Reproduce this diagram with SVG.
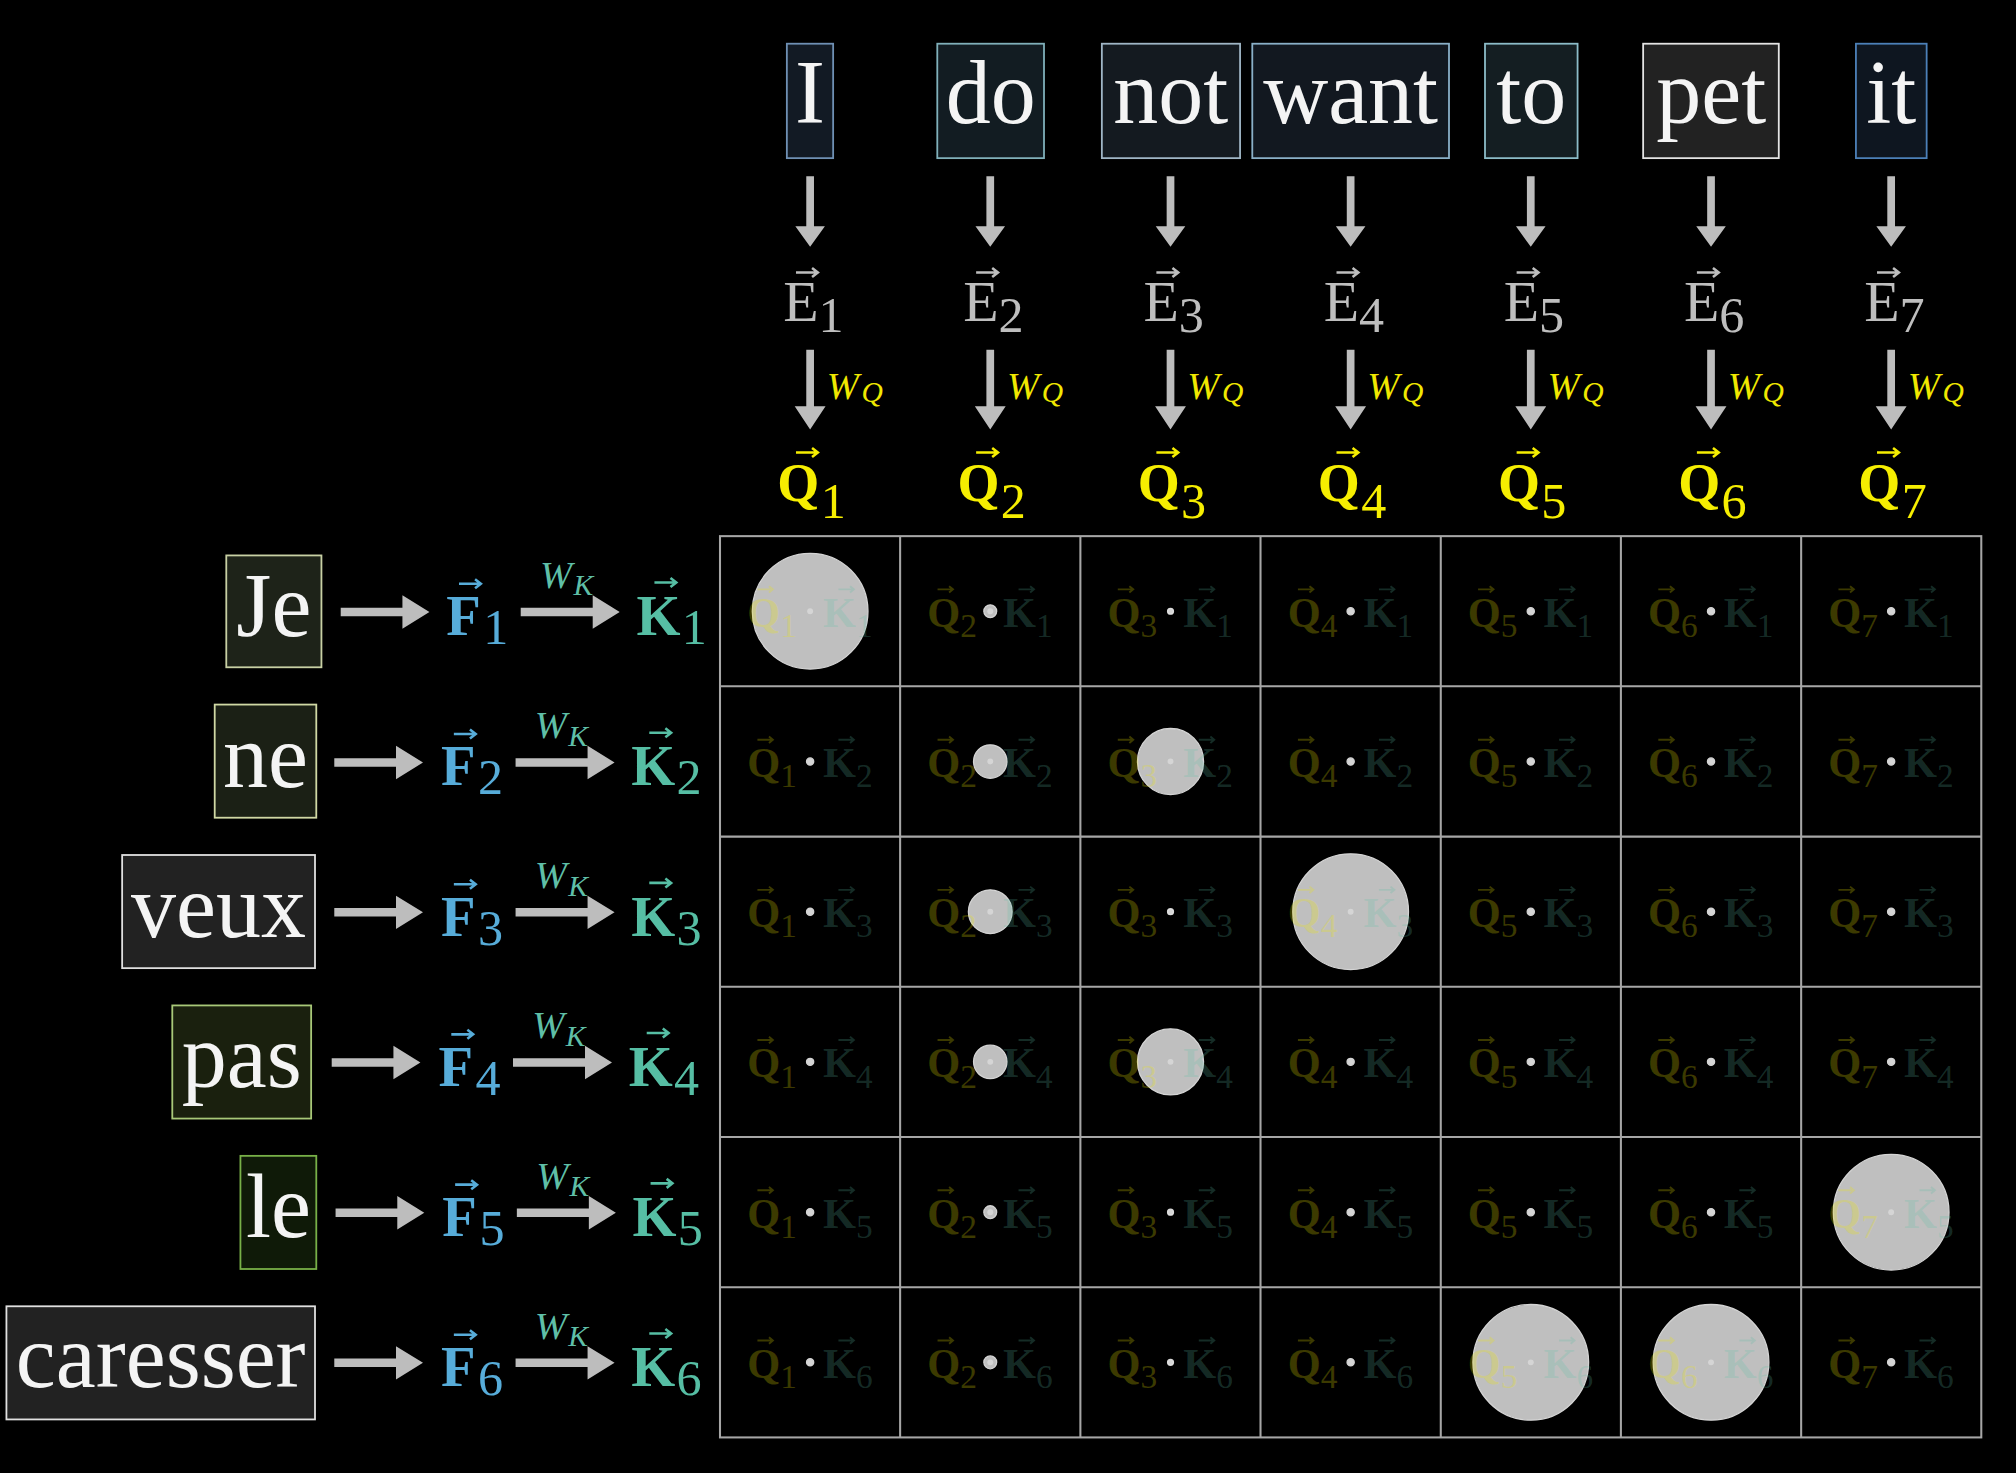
<svg xmlns="http://www.w3.org/2000/svg" xmlns:xlink="http://www.w3.org/1999/xlink" width="2016" height="1473" viewBox="0 0 2016 1473">
<style>
text{font-family:"Liberation Serif","DejaVu Serif",serif}
.w{font-size:70px;fill:#f4f4f4;text-anchor:middle}
.bx{stroke-width:1.4}
.ar{fill:#bdbdbd}
.e{font-size:45px;fill:#bebebe}
.es{font-size:39px}
.q{font-size:42px;font-weight:bold;fill:#f6ee00}
.qs{font-size:39px;font-weight:normal}
.wq{font-size:30px;font-style:italic;fill:#f0e800}
.wqs{font-size:23px}
.f{font-size:44px;font-weight:bold;fill:#57acd9}
.k{font-size:44px;font-weight:bold;fill:#56bea4}
.fs{font-size:39px;font-weight:normal}
.wk{font-size:30px;font-style:italic;fill:#5fbfa7}
.wks{font-size:23px}
.grid{fill:none;stroke:#a6a6a6;stroke-width:1.6}
.dt{fill:#bfbfbf;stroke:#d4d4d4;stroke-width:1}
.cd{fill:#ffffff;opacity:.35}
.ct{font-size:33px;font-weight:bold}
.cq{fill:#f0e800;fill-opacity:.25}
.ck{fill:#5cbfa5;fill-opacity:.23}
.n{font-size:26px;font-weight:normal}
.aq{stroke:#f0e800;stroke-opacity:.25}
.ak{stroke:#5cbfa5;stroke-opacity:.23}
</style>
<defs>
<path id="va" d="M0,0h17m-4.5,-3.5l4.5,3.5l-4.5,3.5" fill="none" stroke-width="2"/>
<path id="ca" d="M0,0h12m-3,-2.5l3,2.5l-3,2.5" fill="none" stroke-width="1.5"/>
<polygon id="da1" points="-3,137 3,137 3,176 11.5,176 0,192 -11.5,176 -3,176"/>
<polygon id="da2" points="-3,272 3,272 3,316 12,316 0,334 -12,316 -3,316"/>
<polygon id="ha1" points="0,-3.3 48,-3.3 48,-13 69,0 48,13 48,3.3 0,3.3"/>
<polygon id="ha2" points="0,-3.3 56,-3.3 56,-13 77,0 56,13 56,3.3 0,3.3"/>
</defs>
<rect width="2016" height="1473" fill="#000"/>
<g transform="scale(1.285714)">

<g id="top-words">
<g id="w-I"><rect class="bx" x="612" y="34" width="36" height="89" fill="#121a24" stroke="#6f90b4"/><text class="w" x="630" y="96">I</text></g>
<g id="w-do"><rect class="bx" x="729" y="34" width="83" height="89" fill="#121c22" stroke="#80b0ba"/><text class="w" x="770.5" y="96">do</text></g>
<g id="w-not"><rect class="bx" x="857" y="34" width="107.5" height="89" fill="#141a20" stroke="#a0b6c6"/><text class="w" x="910.5" y="96">not</text></g>
<g id="w-want"><rect class="bx" x="974" y="34" width="153" height="89" fill="#121820" stroke="#8ab0c8"/><text class="w" x="1050.5" y="96">want</text></g>
<g id="w-to"><rect class="bx" x="1155" y="34" width="72" height="89" fill="#141e22" stroke="#8cbcc8"/><text class="w" x="1191" y="96">to</text></g>
<g id="w-pet"><rect class="bx" x="1278" y="34" width="105.5" height="89" fill="#222222" stroke="#e4e4e4"/><text class="w" x="1331" y="96">pet</text></g>
<g id="w-it"><rect class="bx" x="1443.5" y="34" width="55" height="89" fill="#0e1620" stroke="#4c80b8"/><text class="w" x="1471" y="96">it</text></g>
</g>

<g id="E-vectors">
<g id="E1"><text class="e" x="609.1" y="250">E<tspan class="es" dy="8">1</tspan></text><use href="#va" x="619.1" y="212" stroke="#bebebe"/></g>
<g id="E2"><text class="e" x="749.2" y="250">E<tspan class="es" dy="8">2</tspan></text><use href="#va" x="759.2" y="212" stroke="#bebebe"/></g>
<g id="E3"><text class="e" x="889.4" y="250">E<tspan class="es" dy="8">3</tspan></text><use href="#va" x="899.4" y="212" stroke="#bebebe"/></g>
<g id="E4"><text class="e" x="1029.5" y="250">E<tspan class="es" dy="8">4</tspan></text><use href="#va" x="1039.5" y="212" stroke="#bebebe"/></g>
<g id="E5"><text class="e" x="1169.6" y="250">E<tspan class="es" dy="8">5</tspan></text><use href="#va" x="1179.6" y="212" stroke="#bebebe"/></g>
<g id="E6"><text class="e" x="1309.8" y="250">E<tspan class="es" dy="8">6</tspan></text><use href="#va" x="1319.8" y="212" stroke="#bebebe"/></g>
<g id="E7"><text class="e" x="1449.9" y="250">E<tspan class="es" dy="8">7</tspan></text><use href="#va" x="1459.9" y="212" stroke="#bebebe"/></g>
</g>

<g id="Q-vectors">
<g id="Q1"><text class="q" x="604.6" y="390">Q<tspan class="qs" dx="1" dy="13">1</tspan></text><use href="#va" x="619.1" y="352" stroke="#f6ee00"/></g>
<g id="Q2"><text class="q" x="744.7" y="390">Q<tspan class="qs" dx="1" dy="13">2</tspan></text><use href="#va" x="759.2" y="352" stroke="#f6ee00"/></g>
<g id="Q3"><text class="q" x="884.9" y="390">Q<tspan class="qs" dx="1" dy="13">3</tspan></text><use href="#va" x="899.4" y="352" stroke="#f6ee00"/></g>
<g id="Q4"><text class="q" x="1025" y="390">Q<tspan class="qs" dx="1" dy="13">4</tspan></text><use href="#va" x="1039.5" y="352" stroke="#f6ee00"/></g>
<g id="Q5"><text class="q" x="1165.1" y="390">Q<tspan class="qs" dx="1" dy="13">5</tspan></text><use href="#va" x="1179.6" y="352" stroke="#f6ee00"/></g>
<g id="Q6"><text class="q" x="1305.3" y="390">Q<tspan class="qs" dx="1" dy="13">6</tspan></text><use href="#va" x="1319.8" y="352" stroke="#f6ee00"/></g>
<g id="Q7"><text class="q" x="1445.4" y="390">Q<tspan class="qs" dx="1" dy="13">7</tspan></text><use href="#va" x="1459.9" y="352" stroke="#f6ee00"/></g>
</g>

<g id="left-words">
<g id="w-Je"><rect class="bx" x="176" y="432" width="74" height="87" fill="#1e2319" stroke="#c8d0a4"/><text class="w" x="213" y="495">Je</text></g>
<g id="w-ne"><rect class="bx" x="167" y="548" width="79" height="88" fill="#1b2015" stroke="#d0d8a4"/><text class="w" x="206.5" y="612">ne</text></g>
<g id="w-veux"><rect class="bx" x="95" y="665" width="150" height="88" fill="#222222" stroke="#e0e0e0"/><text class="w" x="170" y="728.6">veux</text></g>
<g id="w-pas"><rect class="bx" x="134" y="782" width="108" height="88" fill="#1a200e" stroke="#a8c878"/><text class="w" x="188" y="845.4">pas</text></g>
<g id="w-le"><rect class="bx" x="187" y="899" width="59" height="88" fill="#0f1a08" stroke="#78b048"/><text class="w" x="216.5" y="962.3">le</text></g>
<g id="w-caresser"><rect class="bx" x="5" y="1016" width="240" height="88" fill="#222222" stroke="#e0e0e0"/><text class="w" x="125" y="1079">caresser</text></g>
</g>

<g id="F-K-vectors">
<g id="F1" transform="translate(0,475.4)"><text class="f" x="347" y="18.6">F<tspan class="fs" dx="2" dy="7">1</tspan></text><use href="#va" x="357" y="-21.4" stroke="#57acd9"/></g>
<g id="K1" transform="translate(0,475.4)"><text class="k" x="495" y="18.6">K<tspan class="fs" dx="1" dy="7">1</tspan></text><use href="#va" x="509" y="-22.4" stroke="#56bea4"/></g>
<g id="F2" transform="translate(-4,592.3)"><text class="f" x="347" y="18.6">F<tspan class="fs" dx="2" dy="7">2</tspan></text><use href="#va" x="357" y="-21.4" stroke="#57acd9"/></g>
<g id="K2" transform="translate(-4,592.3)"><text class="k" x="495" y="18.6">K<tspan class="fs" dx="1" dy="7">2</tspan></text><use href="#va" x="509" y="-22.4" stroke="#56bea4"/></g>
<g id="F3" transform="translate(-4,709.1)"><text class="f" x="347" y="18.6">F<tspan class="fs" dx="2" dy="7">3</tspan></text><use href="#va" x="357" y="-21.4" stroke="#57acd9"/></g>
<g id="K3" transform="translate(-4,709.1)"><text class="k" x="495" y="18.6">K<tspan class="fs" dx="1" dy="7">3</tspan></text><use href="#va" x="509" y="-22.4" stroke="#56bea4"/></g>
<g id="F4" transform="translate(-6,825.9)"><text class="f" x="347" y="18.6">F<tspan class="fs" dx="2" dy="7">4</tspan></text><use href="#va" x="357" y="-21.4" stroke="#57acd9"/></g>
<g id="K4" transform="translate(-6,825.9)"><text class="k" x="495" y="18.6">K<tspan class="fs" dx="1" dy="7">4</tspan></text><use href="#va" x="509" y="-22.4" stroke="#56bea4"/></g>
<g id="F5" transform="translate(-3,942.8)"><text class="f" x="347" y="18.6">F<tspan class="fs" dx="2" dy="7">5</tspan></text><use href="#va" x="357" y="-21.4" stroke="#57acd9"/></g>
<g id="K5" transform="translate(-3,942.8)"><text class="k" x="495" y="18.6">K<tspan class="fs" dx="1" dy="7">5</tspan></text><use href="#va" x="509" y="-22.4" stroke="#56bea4"/></g>
<g id="F6" transform="translate(-4,1059.6)"><text class="f" x="347" y="18.6">F<tspan class="fs" dx="2" dy="7">6</tspan></text><use href="#va" x="357" y="-21.4" stroke="#57acd9"/></g>
<g id="K6" transform="translate(-4,1059.6)"><text class="k" x="495" y="18.6">K<tspan class="fs" dx="1" dy="7">6</tspan></text><use href="#va" x="509" y="-22.4" stroke="#56bea4"/></g>
</g>

<g id="connectors">
<g class="ar">
<use href="#da1" x="630.1"/><use href="#da1" x="770.2"/><use href="#da1" x="910.4"/><use href="#da1" x="1050.5"/><use href="#da1" x="1190.6"/><use href="#da1" x="1330.8"/><use href="#da1" x="1470.9"/>
<use href="#da2" x="630.1"/><use href="#da2" x="770.2"/><use href="#da2" x="910.4"/><use href="#da2" x="1050.5"/><use href="#da2" x="1190.6"/><use href="#da2" x="1330.8"/><use href="#da2" x="1470.9"/>
<use href="#ha1" x="265" y="476"/><use href="#ha2" x="405" y="476"/>
<use href="#ha1" x="260" y="593"/><use href="#ha2" x="401" y="593"/>
<use href="#ha1" x="260" y="709.6"/><use href="#ha2" x="401" y="709.6"/>
<use href="#ha1" x="258" y="826.4"/><use href="#ha2" x="399" y="826.4"/>
<use href="#ha1" x="261" y="943.3"/><use href="#ha2" x="402" y="943.3"/>
<use href="#ha1" x="260" y="1060"/><use href="#ha2" x="401" y="1060"/>
</g>
<g id="wq-labels">
<text class="wq" x="643.1" y="310">W<tspan class="wqs" dx="2" dy="3">Q</tspan></text>
<text class="wq" x="783.2" y="310">W<tspan class="wqs" dx="2" dy="3">Q</tspan></text>
<text class="wq" x="923.4" y="310">W<tspan class="wqs" dx="2" dy="3">Q</tspan></text>
<text class="wq" x="1063.5" y="310">W<tspan class="wqs" dx="2" dy="3">Q</tspan></text>
<text class="wq" x="1203.6" y="310">W<tspan class="wqs" dx="2" dy="3">Q</tspan></text>
<text class="wq" x="1343.8" y="310">W<tspan class="wqs" dx="2" dy="3">Q</tspan></text>
<text class="wq" x="1483.9" y="310">W<tspan class="wqs" dx="2" dy="3">Q</tspan></text>
</g>
<g id="wk-labels">
<text class="wk" x="420" y="457">W<tspan class="wks" dx="1" dy="6">K</tspan></text>
<text class="wk" x="416" y="573.9">W<tspan class="wks" dx="1" dy="6">K</tspan></text>
<text class="wk" x="416" y="690.7">W<tspan class="wks" dx="1" dy="6">K</tspan></text>
<text class="wk" x="414" y="807.5">W<tspan class="wks" dx="1" dy="6">K</tspan></text>
<text class="wk" x="417" y="924.4">W<tspan class="wks" dx="1" dy="6">K</tspan></text>
<text class="wk" x="416" y="1041.2">W<tspan class="wks" dx="1" dy="6">K</tspan></text>
</g>
</g>

<g id="grid">
<rect class="grid" x="560" y="417" width="981" height="701"/>
<path class="grid" d="M700.1,417V1118M840.3,417V1118M980.4,417V1118M1120.6,417V1118M1260.7,417V1118M1400.9,417V1118M560,533.8H1541M560,650.7H1541M560,767.5H1541M560,884.3H1541M560,1001.2H1541"/>
</g>

<g id="scores">
<g id="s-q1k1" transform="translate(630.1,475.4)"><circle class="dt" r="45"/><text class="ct" x="-49" y="12"><tspan class="cq">Q</tspan><tspan class="cq n" dy="8">1</tspan><tspan class="ck" x="10" dy="-8">K</tspan><tspan class="ck n" dy="8">1</tspan></text><use class="aq" href="#ca" x="-41" y="-17"/><use class="ak" href="#ca" x="22" y="-17"/><circle class="cd" r="2.3"/></g>
<g id="s-q2k1" transform="translate(770.2,475.4)"><circle class="dt" r="5"/><text class="ct" x="-49" y="12"><tspan class="cq">Q</tspan><tspan class="cq n" dy="8">2</tspan><tspan class="ck" x="10" dy="-8">K</tspan><tspan class="ck n" dy="8">1</tspan></text><use class="aq" href="#ca" x="-41" y="-17"/><use class="ak" href="#ca" x="22" y="-17"/><circle class="cd" r="2.3"/></g>
<g id="s-q3k1" transform="translate(910.4,475.4)"><circle class="dt" r="2.3"/><text class="ct" x="-49" y="12"><tspan class="cq">Q</tspan><tspan class="cq n" dy="8">3</tspan><tspan class="ck" x="10" dy="-8">K</tspan><tspan class="ck n" dy="8">1</tspan></text><use class="aq" href="#ca" x="-41" y="-17"/><use class="ak" href="#ca" x="22" y="-17"/><circle class="cd" r="2.3"/></g>
<g id="s-q4k1" transform="translate(1050.5,475.4)"><circle class="dt" r="2.8"/><text class="ct" x="-49" y="12"><tspan class="cq">Q</tspan><tspan class="cq n" dy="8">4</tspan><tspan class="ck" x="10" dy="-8">K</tspan><tspan class="ck n" dy="8">1</tspan></text><use class="aq" href="#ca" x="-41" y="-17"/><use class="ak" href="#ca" x="22" y="-17"/><circle class="cd" r="2.3"/></g>
<g id="s-q5k1" transform="translate(1190.6,475.4)"><circle class="dt" r="2.8"/><text class="ct" x="-49" y="12"><tspan class="cq">Q</tspan><tspan class="cq n" dy="8">5</tspan><tspan class="ck" x="10" dy="-8">K</tspan><tspan class="ck n" dy="8">1</tspan></text><use class="aq" href="#ca" x="-41" y="-17"/><use class="ak" href="#ca" x="22" y="-17"/><circle class="cd" r="2.3"/></g>
<g id="s-q6k1" transform="translate(1330.8,475.4)"><circle class="dt" r="2.8"/><text class="ct" x="-49" y="12"><tspan class="cq">Q</tspan><tspan class="cq n" dy="8">6</tspan><tspan class="ck" x="10" dy="-8">K</tspan><tspan class="ck n" dy="8">1</tspan></text><use class="aq" href="#ca" x="-41" y="-17"/><use class="ak" href="#ca" x="22" y="-17"/><circle class="cd" r="2.3"/></g>
<g id="s-q7k1" transform="translate(1470.9,475.4)"><circle class="dt" r="2.8"/><text class="ct" x="-49" y="12"><tspan class="cq">Q</tspan><tspan class="cq n" dy="8">7</tspan><tspan class="ck" x="10" dy="-8">K</tspan><tspan class="ck n" dy="8">1</tspan></text><use class="aq" href="#ca" x="-41" y="-17"/><use class="ak" href="#ca" x="22" y="-17"/><circle class="cd" r="2.3"/></g>

<g id="s-q1k2" transform="translate(630.1,592.3)"><circle class="dt" r="2.8"/><text class="ct" x="-49" y="12"><tspan class="cq">Q</tspan><tspan class="cq n" dy="8">1</tspan><tspan class="ck" x="10" dy="-8">K</tspan><tspan class="ck n" dy="8">2</tspan></text><use class="aq" href="#ca" x="-41" y="-17"/><use class="ak" href="#ca" x="22" y="-17"/><circle class="cd" r="2.3"/></g>
<g id="s-q2k2" transform="translate(770.2,592.3)"><circle class="dt" r="13"/><text class="ct" x="-49" y="12"><tspan class="cq">Q</tspan><tspan class="cq n" dy="8">2</tspan><tspan class="ck" x="10" dy="-8">K</tspan><tspan class="ck n" dy="8">2</tspan></text><use class="aq" href="#ca" x="-41" y="-17"/><use class="ak" href="#ca" x="22" y="-17"/><circle class="cd" r="2.3"/></g>
<g id="s-q3k2" transform="translate(910.4,592.3)"><circle class="dt" r="25.7"/><text class="ct" x="-49" y="12"><tspan class="cq">Q</tspan><tspan class="cq n" dy="8">3</tspan><tspan class="ck" x="10" dy="-8">K</tspan><tspan class="ck n" dy="8">2</tspan></text><use class="aq" href="#ca" x="-41" y="-17"/><use class="ak" href="#ca" x="22" y="-17"/><circle class="cd" r="2.3"/></g>
<g id="s-q4k2" transform="translate(1050.5,592.3)"><circle class="dt" r="2.8"/><text class="ct" x="-49" y="12"><tspan class="cq">Q</tspan><tspan class="cq n" dy="8">4</tspan><tspan class="ck" x="10" dy="-8">K</tspan><tspan class="ck n" dy="8">2</tspan></text><use class="aq" href="#ca" x="-41" y="-17"/><use class="ak" href="#ca" x="22" y="-17"/><circle class="cd" r="2.3"/></g>
<g id="s-q5k2" transform="translate(1190.6,592.3)"><circle class="dt" r="2.8"/><text class="ct" x="-49" y="12"><tspan class="cq">Q</tspan><tspan class="cq n" dy="8">5</tspan><tspan class="ck" x="10" dy="-8">K</tspan><tspan class="ck n" dy="8">2</tspan></text><use class="aq" href="#ca" x="-41" y="-17"/><use class="ak" href="#ca" x="22" y="-17"/><circle class="cd" r="2.3"/></g>
<g id="s-q6k2" transform="translate(1330.8,592.3)"><circle class="dt" r="2.8"/><text class="ct" x="-49" y="12"><tspan class="cq">Q</tspan><tspan class="cq n" dy="8">6</tspan><tspan class="ck" x="10" dy="-8">K</tspan><tspan class="ck n" dy="8">2</tspan></text><use class="aq" href="#ca" x="-41" y="-17"/><use class="ak" href="#ca" x="22" y="-17"/><circle class="cd" r="2.3"/></g>
<g id="s-q7k2" transform="translate(1470.9,592.3)"><circle class="dt" r="2.8"/><text class="ct" x="-49" y="12"><tspan class="cq">Q</tspan><tspan class="cq n" dy="8">7</tspan><tspan class="ck" x="10" dy="-8">K</tspan><tspan class="ck n" dy="8">2</tspan></text><use class="aq" href="#ca" x="-41" y="-17"/><use class="ak" href="#ca" x="22" y="-17"/><circle class="cd" r="2.3"/></g>

<g id="s-q1k3" transform="translate(630.1,709.1)"><circle class="dt" r="2.8"/><text class="ct" x="-49" y="12"><tspan class="cq">Q</tspan><tspan class="cq n" dy="8">1</tspan><tspan class="ck" x="10" dy="-8">K</tspan><tspan class="ck n" dy="8">3</tspan></text><use class="aq" href="#ca" x="-41" y="-17"/><use class="ak" href="#ca" x="22" y="-17"/><circle class="cd" r="2.3"/></g>
<g id="s-q2k3" transform="translate(770.2,709.1)"><circle class="dt" r="17"/><text class="ct" x="-49" y="12"><tspan class="cq">Q</tspan><tspan class="cq n" dy="8">2</tspan><tspan class="ck" x="10" dy="-8">K</tspan><tspan class="ck n" dy="8">3</tspan></text><use class="aq" href="#ca" x="-41" y="-17"/><use class="ak" href="#ca" x="22" y="-17"/><circle class="cd" r="2.3"/></g>
<g id="s-q3k3" transform="translate(910.4,709.1)"><circle class="dt" r="2.3"/><text class="ct" x="-49" y="12"><tspan class="cq">Q</tspan><tspan class="cq n" dy="8">3</tspan><tspan class="ck" x="10" dy="-8">K</tspan><tspan class="ck n" dy="8">3</tspan></text><use class="aq" href="#ca" x="-41" y="-17"/><use class="ak" href="#ca" x="22" y="-17"/><circle class="cd" r="2.3"/></g>
<g id="s-q4k3" transform="translate(1050.5,709.1)"><circle class="dt" r="45"/><text class="ct" x="-49" y="12"><tspan class="cq">Q</tspan><tspan class="cq n" dy="8">4</tspan><tspan class="ck" x="10" dy="-8">K</tspan><tspan class="ck n" dy="8">3</tspan></text><use class="aq" href="#ca" x="-41" y="-17"/><use class="ak" href="#ca" x="22" y="-17"/><circle class="cd" r="2.3"/></g>
<g id="s-q5k3" transform="translate(1190.6,709.1)"><circle class="dt" r="2.8"/><text class="ct" x="-49" y="12"><tspan class="cq">Q</tspan><tspan class="cq n" dy="8">5</tspan><tspan class="ck" x="10" dy="-8">K</tspan><tspan class="ck n" dy="8">3</tspan></text><use class="aq" href="#ca" x="-41" y="-17"/><use class="ak" href="#ca" x="22" y="-17"/><circle class="cd" r="2.3"/></g>
<g id="s-q6k3" transform="translate(1330.8,709.1)"><circle class="dt" r="2.8"/><text class="ct" x="-49" y="12"><tspan class="cq">Q</tspan><tspan class="cq n" dy="8">6</tspan><tspan class="ck" x="10" dy="-8">K</tspan><tspan class="ck n" dy="8">3</tspan></text><use class="aq" href="#ca" x="-41" y="-17"/><use class="ak" href="#ca" x="22" y="-17"/><circle class="cd" r="2.3"/></g>
<g id="s-q7k3" transform="translate(1470.9,709.1)"><circle class="dt" r="2.8"/><text class="ct" x="-49" y="12"><tspan class="cq">Q</tspan><tspan class="cq n" dy="8">7</tspan><tspan class="ck" x="10" dy="-8">K</tspan><tspan class="ck n" dy="8">3</tspan></text><use class="aq" href="#ca" x="-41" y="-17"/><use class="ak" href="#ca" x="22" y="-17"/><circle class="cd" r="2.3"/></g>

<g id="s-q1k4" transform="translate(630.1,825.9)"><circle class="dt" r="2.8"/><text class="ct" x="-49" y="12"><tspan class="cq">Q</tspan><tspan class="cq n" dy="8">1</tspan><tspan class="ck" x="10" dy="-8">K</tspan><tspan class="ck n" dy="8">4</tspan></text><use class="aq" href="#ca" x="-41" y="-17"/><use class="ak" href="#ca" x="22" y="-17"/><circle class="cd" r="2.3"/></g>
<g id="s-q2k4" transform="translate(770.2,825.9)"><circle class="dt" r="13"/><text class="ct" x="-49" y="12"><tspan class="cq">Q</tspan><tspan class="cq n" dy="8">2</tspan><tspan class="ck" x="10" dy="-8">K</tspan><tspan class="ck n" dy="8">4</tspan></text><use class="aq" href="#ca" x="-41" y="-17"/><use class="ak" href="#ca" x="22" y="-17"/><circle class="cd" r="2.3"/></g>
<g id="s-q3k4" transform="translate(910.4,825.9)"><circle class="dt" r="25.7"/><text class="ct" x="-49" y="12"><tspan class="cq">Q</tspan><tspan class="cq n" dy="8">3</tspan><tspan class="ck" x="10" dy="-8">K</tspan><tspan class="ck n" dy="8">4</tspan></text><use class="aq" href="#ca" x="-41" y="-17"/><use class="ak" href="#ca" x="22" y="-17"/><circle class="cd" r="2.3"/></g>
<g id="s-q4k4" transform="translate(1050.5,825.9)"><circle class="dt" r="2.8"/><text class="ct" x="-49" y="12"><tspan class="cq">Q</tspan><tspan class="cq n" dy="8">4</tspan><tspan class="ck" x="10" dy="-8">K</tspan><tspan class="ck n" dy="8">4</tspan></text><use class="aq" href="#ca" x="-41" y="-17"/><use class="ak" href="#ca" x="22" y="-17"/><circle class="cd" r="2.3"/></g>
<g id="s-q5k4" transform="translate(1190.6,825.9)"><circle class="dt" r="2.8"/><text class="ct" x="-49" y="12"><tspan class="cq">Q</tspan><tspan class="cq n" dy="8">5</tspan><tspan class="ck" x="10" dy="-8">K</tspan><tspan class="ck n" dy="8">4</tspan></text><use class="aq" href="#ca" x="-41" y="-17"/><use class="ak" href="#ca" x="22" y="-17"/><circle class="cd" r="2.3"/></g>
<g id="s-q6k4" transform="translate(1330.8,825.9)"><circle class="dt" r="2.8"/><text class="ct" x="-49" y="12"><tspan class="cq">Q</tspan><tspan class="cq n" dy="8">6</tspan><tspan class="ck" x="10" dy="-8">K</tspan><tspan class="ck n" dy="8">4</tspan></text><use class="aq" href="#ca" x="-41" y="-17"/><use class="ak" href="#ca" x="22" y="-17"/><circle class="cd" r="2.3"/></g>
<g id="s-q7k4" transform="translate(1470.9,825.9)"><circle class="dt" r="2.8"/><text class="ct" x="-49" y="12"><tspan class="cq">Q</tspan><tspan class="cq n" dy="8">7</tspan><tspan class="ck" x="10" dy="-8">K</tspan><tspan class="ck n" dy="8">4</tspan></text><use class="aq" href="#ca" x="-41" y="-17"/><use class="ak" href="#ca" x="22" y="-17"/><circle class="cd" r="2.3"/></g>

<g id="s-q1k5" transform="translate(630.1,942.8)"><circle class="dt" r="2.8"/><text class="ct" x="-49" y="12"><tspan class="cq">Q</tspan><tspan class="cq n" dy="8">1</tspan><tspan class="ck" x="10" dy="-8">K</tspan><tspan class="ck n" dy="8">5</tspan></text><use class="aq" href="#ca" x="-41" y="-17"/><use class="ak" href="#ca" x="22" y="-17"/><circle class="cd" r="2.3"/></g>
<g id="s-q2k5" transform="translate(770.2,942.8)"><circle class="dt" r="5"/><text class="ct" x="-49" y="12"><tspan class="cq">Q</tspan><tspan class="cq n" dy="8">2</tspan><tspan class="ck" x="10" dy="-8">K</tspan><tspan class="ck n" dy="8">5</tspan></text><use class="aq" href="#ca" x="-41" y="-17"/><use class="ak" href="#ca" x="22" y="-17"/><circle class="cd" r="2.3"/></g>
<g id="s-q3k5" transform="translate(910.4,942.8)"><circle class="dt" r="2.3"/><text class="ct" x="-49" y="12"><tspan class="cq">Q</tspan><tspan class="cq n" dy="8">3</tspan><tspan class="ck" x="10" dy="-8">K</tspan><tspan class="ck n" dy="8">5</tspan></text><use class="aq" href="#ca" x="-41" y="-17"/><use class="ak" href="#ca" x="22" y="-17"/><circle class="cd" r="2.3"/></g>
<g id="s-q4k5" transform="translate(1050.5,942.8)"><circle class="dt" r="2.8"/><text class="ct" x="-49" y="12"><tspan class="cq">Q</tspan><tspan class="cq n" dy="8">4</tspan><tspan class="ck" x="10" dy="-8">K</tspan><tspan class="ck n" dy="8">5</tspan></text><use class="aq" href="#ca" x="-41" y="-17"/><use class="ak" href="#ca" x="22" y="-17"/><circle class="cd" r="2.3"/></g>
<g id="s-q5k5" transform="translate(1190.6,942.8)"><circle class="dt" r="2.8"/><text class="ct" x="-49" y="12"><tspan class="cq">Q</tspan><tspan class="cq n" dy="8">5</tspan><tspan class="ck" x="10" dy="-8">K</tspan><tspan class="ck n" dy="8">5</tspan></text><use class="aq" href="#ca" x="-41" y="-17"/><use class="ak" href="#ca" x="22" y="-17"/><circle class="cd" r="2.3"/></g>
<g id="s-q6k5" transform="translate(1330.8,942.8)"><circle class="dt" r="2.8"/><text class="ct" x="-49" y="12"><tspan class="cq">Q</tspan><tspan class="cq n" dy="8">6</tspan><tspan class="ck" x="10" dy="-8">K</tspan><tspan class="ck n" dy="8">5</tspan></text><use class="aq" href="#ca" x="-41" y="-17"/><use class="ak" href="#ca" x="22" y="-17"/><circle class="cd" r="2.3"/></g>
<g id="s-q7k5" transform="translate(1470.9,942.8)"><circle class="dt" r="45"/><text class="ct" x="-49" y="12"><tspan class="cq">Q</tspan><tspan class="cq n" dy="8">7</tspan><tspan class="ck" x="10" dy="-8">K</tspan><tspan class="ck n" dy="8">5</tspan></text><use class="aq" href="#ca" x="-41" y="-17"/><use class="ak" href="#ca" x="22" y="-17"/><circle class="cd" r="2.3"/></g>

<g id="s-q1k6" transform="translate(630.1,1059.6)"><circle class="dt" r="2.8"/><text class="ct" x="-49" y="12"><tspan class="cq">Q</tspan><tspan class="cq n" dy="8">1</tspan><tspan class="ck" x="10" dy="-8">K</tspan><tspan class="ck n" dy="8">6</tspan></text><use class="aq" href="#ca" x="-41" y="-17"/><use class="ak" href="#ca" x="22" y="-17"/><circle class="cd" r="2.3"/></g>
<g id="s-q2k6" transform="translate(770.2,1059.6)"><circle class="dt" r="5"/><text class="ct" x="-49" y="12"><tspan class="cq">Q</tspan><tspan class="cq n" dy="8">2</tspan><tspan class="ck" x="10" dy="-8">K</tspan><tspan class="ck n" dy="8">6</tspan></text><use class="aq" href="#ca" x="-41" y="-17"/><use class="ak" href="#ca" x="22" y="-17"/><circle class="cd" r="2.3"/></g>
<g id="s-q3k6" transform="translate(910.4,1059.6)"><circle class="dt" r="2.3"/><text class="ct" x="-49" y="12"><tspan class="cq">Q</tspan><tspan class="cq n" dy="8">3</tspan><tspan class="ck" x="10" dy="-8">K</tspan><tspan class="ck n" dy="8">6</tspan></text><use class="aq" href="#ca" x="-41" y="-17"/><use class="ak" href="#ca" x="22" y="-17"/><circle class="cd" r="2.3"/></g>
<g id="s-q4k6" transform="translate(1050.5,1059.6)"><circle class="dt" r="2.8"/><text class="ct" x="-49" y="12"><tspan class="cq">Q</tspan><tspan class="cq n" dy="8">4</tspan><tspan class="ck" x="10" dy="-8">K</tspan><tspan class="ck n" dy="8">6</tspan></text><use class="aq" href="#ca" x="-41" y="-17"/><use class="ak" href="#ca" x="22" y="-17"/><circle class="cd" r="2.3"/></g>
<g id="s-q5k6" transform="translate(1190.6,1059.6)"><circle class="dt" r="45"/><text class="ct" x="-49" y="12"><tspan class="cq">Q</tspan><tspan class="cq n" dy="8">5</tspan><tspan class="ck" x="10" dy="-8">K</tspan><tspan class="ck n" dy="8">6</tspan></text><use class="aq" href="#ca" x="-41" y="-17"/><use class="ak" href="#ca" x="22" y="-17"/><circle class="cd" r="2.3"/></g>
<g id="s-q6k6" transform="translate(1330.8,1059.6)"><circle class="dt" r="45"/><text class="ct" x="-49" y="12"><tspan class="cq">Q</tspan><tspan class="cq n" dy="8">6</tspan><tspan class="ck" x="10" dy="-8">K</tspan><tspan class="ck n" dy="8">6</tspan></text><use class="aq" href="#ca" x="-41" y="-17"/><use class="ak" href="#ca" x="22" y="-17"/><circle class="cd" r="2.3"/></g>
<g id="s-q7k6" transform="translate(1470.9,1059.6)"><circle class="dt" r="2.8"/><text class="ct" x="-49" y="12"><tspan class="cq">Q</tspan><tspan class="cq n" dy="8">7</tspan><tspan class="ck" x="10" dy="-8">K</tspan><tspan class="ck n" dy="8">6</tspan></text><use class="aq" href="#ca" x="-41" y="-17"/><use class="ak" href="#ca" x="22" y="-17"/><circle class="cd" r="2.3"/></g>
</g>

</g>
</svg>
